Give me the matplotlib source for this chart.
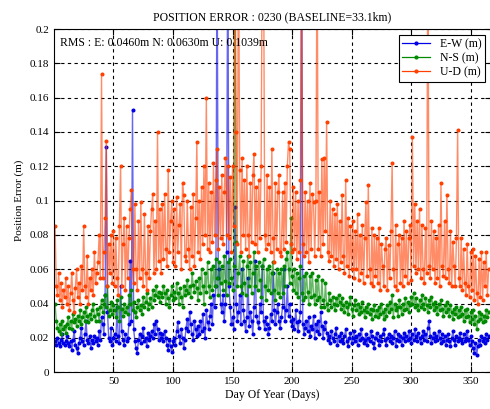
import numpy as np
import matplotlib
matplotlib.use('Agg')
import matplotlib.pyplot as plt
from matplotlib.ticker import FuncFormatter

plt.rcParams['font.family'] = ['Liberation Serif', 'DejaVu Serif']

# Daily position errors (m), day 1..365
ew = [
    0.018, 0.016, 0.02, 0.017, 0.015, 0.019, 0.022, 0.017, 0.016, 0.018,
    0.021, 0.017, 0.015, 0.018, 0.013, 0.019, 0.024, 0.016, 0.014, 0.011,
    0.017, 0.02, 0.026, 0.018, 0.016, 0.022, 0.03, 0.019, 0.017, 0.021,
    0.014, 0.019, 0.017, 0.021, 0.018, 0.02, 0.016, 0.024, 0.019, 0.032,
    0.028, 0.022, 0.045, 0.131, 0.035, 0.02, 0.018, 0.026, 0.016, 0.02,
    0.022, 0.018, 0.038, 0.021, 0.017, 0.05, 0.024, 0.019, 0.016, 0.022,
    0.018, 0.02, 0.028, 0.065, 0.03, 0.153, 0.025, 0.018, 0.014, 0.011,
    0.019, 0.022, 0.017, 0.021, 0.026, 0.018, 0.02, 0.015, 0.023, 0.019,
    0.021, 0.024, 0.02, 0.028, 0.022, 0.03, 0.025, 0.019, 0.023, 0.02,
    0.022, 0.018, 0.024, 0.02, 0.016, 0.013, 0.019, 0.015, 0.012, 0.018,
    0.02, 0.016, 0.024, 0.029, 0.021, 0.017, 0.025, 0.02, 0.014, 0.019,
    0.026, 0.031, 0.024, 0.035, 0.028, 0.022, 0.019, 0.03, 0.025, 0.021,
    0.027, 0.022, 0.03, 0.024, 0.034, 0.026, 0.02, 0.036, 0.029, 0.025,
    0.033, 0.04, 0.028, 0.045, 0.038, 0.05, 0.26, 0.055, 0.06, 0.04,
    0.035, 0.045, 0.03, 0.04, 0.07, 0.26, 0.05, 0.038, 0.028, 0.032,
    0.025, 0.096, 0.04, 0.03, 0.035, 0.045, 0.028, 0.06, 0.036, 0.03,
    0.024, 0.032, 0.055, 0.027, 0.035, 0.03, 0.022, 0.038, 0.065, 0.033,
    0.029, 0.026, 0.04, 0.035, 0.062, 0.03, 0.025, 0.032, 0.028, 0.022,
    0.026, 0.034, 0.03, 0.058, 0.036, 0.028, 0.035, 0.04, 0.03, 0.026,
    0.032, 0.038, 0.06, 0.03, 0.036, 0.05, 0.033, 0.04, 0.03, 0.027,
    0.031, 0.025, 0.036, 0.029, 0.024, 0.03, 0.035, 0.26, 0.028, 0.022,
    0.026, 0.03, 0.024, 0.032, 0.021, 0.027, 0.025, 0.033, 0.02, 0.028,
    0.024, 0.03, 0.022, 0.035, 0.027, 0.02, 0.025, 0.029, 0.023, 0.019,
    0.021, 0.017, 0.024, 0.02, 0.018, 0.022, 0.026, 0.016, 0.021, 0.018,
    0.023, 0.019, 0.017, 0.021, 0.025, 0.018, 0.015, 0.02, 0.023, 0.017,
    0.02, 0.024, 0.018, 0.021, 0.016, 0.022, 0.019, 0.025, 0.02, 0.017,
    0.019, 0.022, 0.016, 0.02, 0.018, 0.024, 0.021, 0.017, 0.014, 0.02,
    0.023, 0.019, 0.016, 0.021, 0.018, 0.022, 0.025, 0.019, 0.016, 0.02,
    0.022, 0.018, 0.021, 0.017, 0.02, 0.024, 0.015, 0.019, 0.022, 0.018,
    0.021, 0.016, 0.02, 0.023, 0.018, 0.021, 0.019, 0.024, 0.02, 0.017,
    0.022, 0.019, 0.025, 0.021, 0.018, 0.023, 0.02, 0.017, 0.021, 0.024,
    0.019, 0.022, 0.018, 0.026, 0.03, 0.021, 0.017, 0.02, 0.023, 0.018,
    0.021, 0.019, 0.024, 0.02, 0.017, 0.022, 0.018, 0.021, 0.016, 0.019,
    0.022, 0.018, 0.015, 0.02, 0.024, 0.019, 0.016, 0.021, 0.018, 0.02,
    0.023, 0.019, 0.017, 0.022, 0.018, 0.02, 0.024, 0.019, 0.016, 0.021,
    0.018, 0.014, 0.011, 0.017, 0.01, 0.015, 0.019, 0.016, 0.021, 0.018,
    0.02, 0.017, 0.022, 0.019, 0.021,
]

ns = [
    0.04, 0.03, 0.026, 0.024, 0.028, 0.022, 0.03, 0.025, 0.027, 0.023,
    0.028, 0.032, 0.026, 0.03, 0.025, 0.034, 0.029, 0.031, 0.027, 0.033,
    0.03, 0.036, 0.028, 0.032, 0.035, 0.03, 0.038, 0.033, 0.029, 0.034,
    0.031, 0.036, 0.04, 0.033, 0.03, 0.037, 0.034, 0.03, 0.038, 0.042,
    0.035, 0.04, 0.045, 0.038, 0.05, 0.033, 0.036, 0.041, 0.034, 0.039,
    0.036, 0.032, 0.042, 0.038, 0.03, 0.044, 0.037, 0.033, 0.04, 0.035,
    0.038, 0.034, 0.045, 0.04, 0.048, 0.036, 0.041, 0.035, 0.032, 0.038,
    0.042, 0.036, 0.039, 0.034, 0.044, 0.038, 0.041, 0.046, 0.037, 0.04,
    0.043, 0.038, 0.048, 0.042, 0.045, 0.05, 0.044, 0.047, 0.041, 0.046,
    0.044, 0.05, 0.046, 0.04, 0.048, 0.043, 0.038, 0.045, 0.05, 0.042,
    0.047, 0.043, 0.052, 0.046, 0.04, 0.049, 0.044, 0.038, 0.05, 0.045,
    0.048, 0.054, 0.046, 0.05, 0.044, 0.058, 0.051, 0.047, 0.053, 0.049,
    0.042, 0.055, 0.046, 0.06, 0.05, 0.04, 0.058, 0.047, 0.064, 0.05,
    0.044, 0.06, 0.048, 0.062, 0.05, 0.066, 0.055, 0.045, 0.064, 0.052,
    0.062, 0.048, 0.068, 0.053, 0.045, 0.064, 0.052, 0.066, 0.055, 0.048,
    0.062, 0.26, 0.076, 0.05, 0.058, 0.068, 0.05, 0.046, 0.065, 0.052,
    0.045, 0.062, 0.068, 0.05, 0.064, 0.046, 0.058, 0.07, 0.05, 0.062,
    0.048, 0.064, 0.054, 0.044, 0.062, 0.066, 0.05, 0.042, 0.06, 0.048,
    0.062, 0.046, 0.058, 0.064, 0.048, 0.042, 0.06, 0.046, 0.058, 0.044,
    0.06, 0.046, 0.062, 0.05, 0.066, 0.07, 0.06, 0.052, 0.09, 0.056,
    0.048, 0.06, 0.046, 0.058, 0.044, 0.055, 0.062, 0.046, 0.042, 0.056,
    0.044, 0.058, 0.047, 0.04, 0.056, 0.044, 0.058, 0.045, 0.04, 0.054,
    0.042, 0.056, 0.044, 0.038, 0.054, 0.042, 0.038, 0.052, 0.04, 0.036,
    0.046, 0.042, 0.038, 0.044, 0.04, 0.036, 0.043, 0.039, 0.045, 0.041,
    0.037, 0.043, 0.039, 0.035, 0.041, 0.038, 0.034, 0.04, 0.044, 0.037,
    0.033, 0.039, 0.042, 0.036, 0.04, 0.034, 0.038, 0.035, 0.041, 0.036,
    0.032, 0.038, 0.035, 0.04, 0.034, 0.037, 0.031, 0.036, 0.039, 0.033,
    0.036, 0.032, 0.038, 0.034, 0.04, 0.035, 0.031, 0.037, 0.033, 0.039,
    0.035, 0.041, 0.037, 0.045, 0.032, 0.04, 0.036, 0.038, 0.033, 0.042,
    0.038, 0.034, 0.04, 0.036, 0.043, 0.037, 0.041, 0.035, 0.039, 0.044,
    0.04, 0.046, 0.038, 0.043, 0.039, 0.036, 0.042, 0.038, 0.045, 0.04,
    0.037, 0.043, 0.039, 0.035, 0.042, 0.038, 0.044, 0.04, 0.036, 0.041,
    0.038, 0.034, 0.04, 0.036, 0.042, 0.037, 0.033, 0.039, 0.035, 0.041,
    0.037, 0.033, 0.039, 0.035, 0.031, 0.037, 0.034, 0.038, 0.032, 0.036,
    0.033, 0.038, 0.034, 0.03, 0.036, 0.032, 0.037, 0.033, 0.029, 0.035,
    0.031, 0.036, 0.028, 0.033, 0.025, 0.03, 0.035, 0.031, 0.034, 0.029,
    0.033, 0.03, 0.036, 0.032, 0.035,
]

ud = [
    0.085, 0.05, 0.045, 0.058, 0.042, 0.052, 0.038, 0.048, 0.044, 0.055,
    0.04, 0.05, 0.036, 0.046, 0.058, 0.042, 0.035, 0.049, 0.06, 0.044,
    0.052, 0.04, 0.062, 0.048, 0.085, 0.05, 0.044, 0.068, 0.04, 0.055,
    0.048, 0.06, 0.045, 0.07, 0.052, 0.058, 0.064, 0.08, 0.055, 0.174,
    0.055, 0.07, 0.09, 0.135, 0.05, 0.075, 0.058, 0.08, 0.052, 0.082,
    0.05, 0.078, 0.055, 0.045, 0.085, 0.12, 0.05, 0.075, 0.09, 0.048,
    0.085, 0.055, 0.078, 0.095, 0.106, 0.06, 0.052, 0.098, 0.06, 0.048,
    0.088, 0.055, 0.099, 0.06, 0.05, 0.092, 0.058, 0.048, 0.085, 0.055,
    0.082, 0.095, 0.104, 0.058, 0.088, 0.06, 0.14, 0.065, 0.095, 0.058,
    0.098, 0.066, 0.104, 0.072, 0.062, 0.118, 0.07, 0.088, 0.1, 0.064,
    0.095, 0.062, 0.102, 0.07, 0.086, 0.098, 0.06, 0.11, 0.103, 0.068,
    0.065, 0.1, 0.072, 0.06, 0.096, 0.068, 0.104, 0.062, 0.09, 0.134,
    0.07, 0.1, 0.066, 0.108, 0.075, 0.12, 0.08, 0.16, 0.072, 0.11,
    0.07, 0.105, 0.076, 0.122, 0.08, 0.112, 0.13, 0.072, 0.108, 0.078,
    0.115, 0.075, 0.105, 0.125, 0.08, 0.12, 0.078, 0.114, 0.07, 0.12,
    0.085, 0.26, 0.14, 0.075, 0.26, 0.118, 0.07, 0.125, 0.08, 0.112,
    0.072, 0.12, 0.08, 0.068, 0.11, 0.076, 0.115, 0.127, 0.075, 0.108,
    0.07, 0.112, 0.078, 0.12, 0.26, 0.26, 0.08, 0.072, 0.115, 0.075,
    0.108, 0.07, 0.13, 0.078, 0.064, 0.11, 0.072, 0.105, 0.115, 0.07,
    0.068, 0.105, 0.072, 0.11, 0.076, 0.12, 0.134, 0.13, 0.075, 0.07,
    0.108, 0.072, 0.105, 0.066, 0.1, 0.07, 0.112, 0.26, 0.075, 0.068,
    0.105, 0.07, 0.1, 0.064, 0.11, 0.072, 0.104, 0.099, 0.068, 0.1,
    0.26, 0.072, 0.105, 0.068, 0.124, 0.075, 0.125, 0.082, 0.146, 0.07,
    0.065, 0.1, 0.068, 0.095, 0.062, 0.092, 0.066, 0.098, 0.06, 0.088,
    0.064, 0.103, 0.068, 0.058, 0.112, 0.062, 0.09, 0.056, 0.085, 0.06,
    0.088, 0.055, 0.082, 0.06, 0.092, 0.054, 0.08, 0.058, 0.086, 0.052,
    0.078, 0.099, 0.056, 0.109, 0.06, 0.052, 0.084, 0.05, 0.08, 0.056,
    0.078, 0.052, 0.084, 0.048, 0.075, 0.062, 0.05, 0.072, 0.078, 0.048,
    0.074, 0.055, 0.082, 0.122, 0.06, 0.05, 0.086, 0.048, 0.075, 0.08,
    0.052, 0.078, 0.05, 0.088, 0.056, 0.082, 0.052, 0.078, 0.086, 0.054,
    0.137, 0.062, 0.098, 0.058, 0.088, 0.06, 0.095, 0.055, 0.086, 0.06,
    0.052, 0.084, 0.058, 0.26, 0.062, 0.055, 0.088, 0.06, 0.082, 0.052,
    0.078, 0.055, 0.086, 0.05, 0.11, 0.062, 0.056, 0.088, 0.055, 0.103,
    0.06, 0.052, 0.082, 0.05, 0.076, 0.062, 0.05, 0.078, 0.141, 0.055,
    0.05, 0.078, 0.048, 0.072, 0.052, 0.045, 0.075, 0.05, 0.044, 0.07,
    0.048, 0.072, 0.042, 0.068, 0.046, 0.04, 0.066, 0.044, 0.07, 0.042,
    0.064, 0.05, 0.07, 0.045, 0.06,
]

days = np.arange(1, len(ew) + 1)
series = [('E-W (m)', ew, '#0000e6'), ('N-S (m)', ns, '#008a00'), ('U-D (m)', ud, '#ff4000')]
rms_text = 'RMS : E: 0.0460m N: 0.0630m U: 0.1039m'

fig = plt.figure(figsize=(4.9, 4.09), dpi=100)
ax = fig.add_axes([0.110, 0.090, 0.892, 0.839])

for name, vals, col in series:
    ax.plot(days, vals, color=col, lw=1.0, alpha=0.6)
    ax.plot(days, vals, ls='none', marker='.', ms=3.8, color=col)
    # proxy for the legend (line + dot)
    ax.plot([], [], color=col, lw=0.9, marker='.', ms=4, label=name)

ax.set_xlim(0, 367)
ax.set_ylim(0, 0.2)
ax.set_xticks([50, 100, 150, 200, 250, 300, 350])
ax.set_yticks(np.arange(0, 0.201, 0.02))
ax.yaxis.set_major_formatter(FuncFormatter(lambda v, p: '%g' % round(v, 3)))
ax.tick_params(direction='in', length=4, labelsize=8, top=True, right=True)
ax.grid(True, color='black', ls=(0, (3, 3)), lw=0.8)

ax.set_title('POSITION ERROR : 0230 (BASELINE=33.1km)', fontsize=8.5, pad=6)
ax.set_xlabel('Day Of Year (Days)', fontsize=8.5, labelpad=2)
ax.set_ylabel('Position Error (m)', fontsize=8, labelpad=4)
ax.text(0.014, 0.958, rms_text, transform=ax.transAxes, fontsize=8.5,
        va='center', ha='left')

leg = ax.legend(loc='upper right', fontsize=8.5, frameon=True, fancybox=False,
                edgecolor='black', framealpha=1, handlelength=2.4,
                borderaxespad=0.5, labelspacing=0.15, borderpad=0.3)
leg.get_frame().set_linewidth(0.8)

fig.savefig('out.png', dpi=100)
